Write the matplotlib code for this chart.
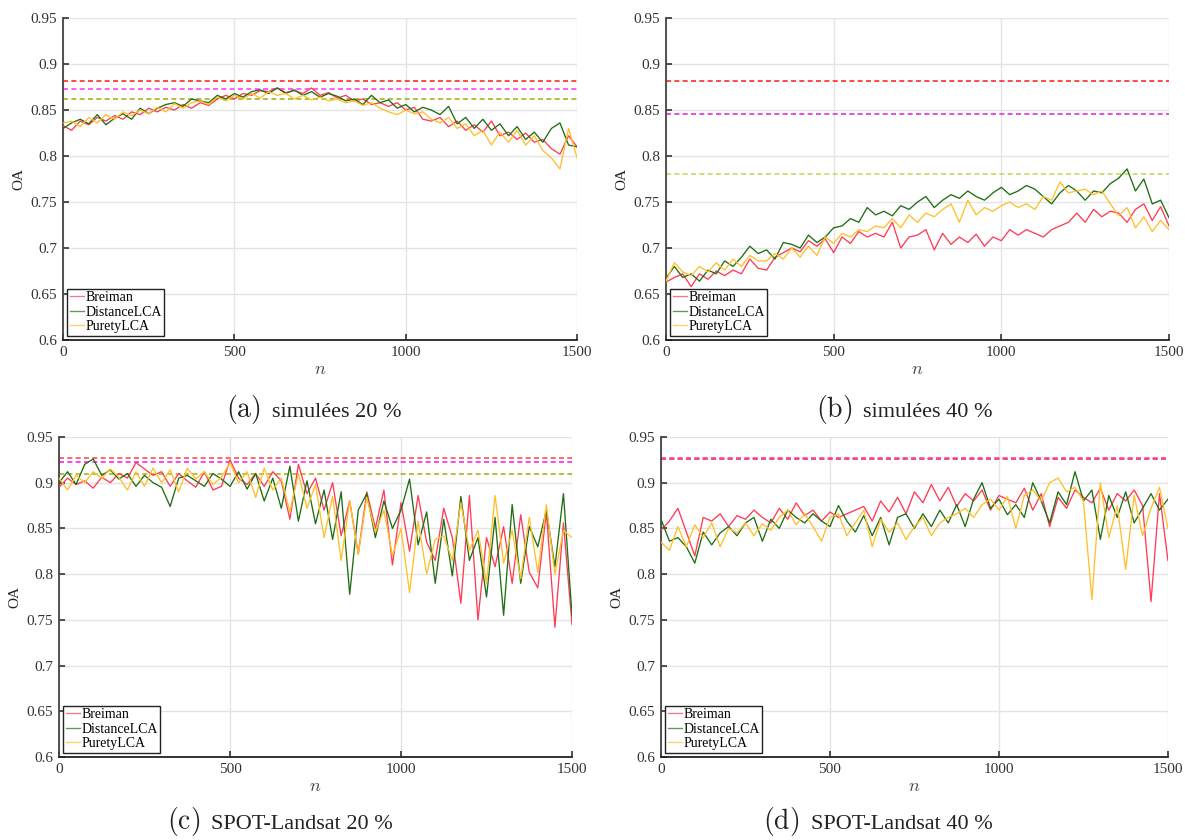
# -*- coding: utf-8 -*-
# OA en fonction de n : 4 jeux de données (simulées / SPOT-Landsat)
import numpy as np
import matplotlib
matplotlib.use('Agg')
from matplotlib import pyplot as plt
from matplotlib.offsetbox import TextArea, HPacker, AnnotationBbox

plt.rcParams['font.family'] = ['Liberation Serif', 'DejaVu Serif']
plt.rcParams['mathtext.fontset'] = 'cm'

methods = ['Breiman', 'DistanceLCA', 'PuretyLCA']
colors = ['#ff3b55', '#1f6e12', '#ffc02a']
cap_tags = ['(a)', '(b)', '(c)', '(d)']
captions = ['simulées 20 %', 'simulées 40 %',
            'SPOT-Landsat 20 %', 'SPOT-Landsat 40 %']

# niveaux de référence (pointillés) : rouge, magenta, olive
ref_a = [0.882, 0.873, 0.862]
ref_b = [0.882, 0.846, 0.780]
ref_c = [0.927, 0.923, 0.910]
ref_d = [0.926, 0.926, 0.927]

# (a) simulées 20 %  (n = 0, 25, ..., 1500)
a_breiman = [0.833, 0.828, 0.838, 0.834, 0.842, 0.838, 0.844, 0.840, 0.848, 0.845,
             0.852, 0.848, 0.853, 0.850, 0.856, 0.852, 0.858, 0.855, 0.862, 0.866,
             0.862, 0.868, 0.866, 0.871, 0.870, 0.874, 0.869, 0.871, 0.868, 0.874,
             0.866, 0.869, 0.863, 0.866, 0.860, 0.862, 0.856, 0.858, 0.854, 0.858,
             0.850, 0.853, 0.840, 0.838, 0.842, 0.832, 0.838, 0.828, 0.834, 0.826,
             0.838, 0.822, 0.826, 0.818, 0.825, 0.815, 0.818, 0.808, 0.802, 0.822,
             0.810]
a_distance = [0.830, 0.836, 0.840, 0.835, 0.845, 0.834, 0.841, 0.846, 0.840, 0.852,
              0.846, 0.852, 0.856, 0.858, 0.854, 0.862, 0.860, 0.858, 0.866, 0.862,
              0.868, 0.864, 0.870, 0.872, 0.868, 0.874, 0.868, 0.872, 0.866, 0.870,
              0.864, 0.868, 0.865, 0.860, 0.862, 0.856, 0.866, 0.858, 0.861, 0.852,
              0.856, 0.848, 0.853, 0.850, 0.845, 0.854, 0.835, 0.842, 0.830, 0.840,
              0.828, 0.835, 0.822, 0.832, 0.818, 0.826, 0.815, 0.830, 0.836, 0.812,
              0.810]
a_purety = [0.836, 0.838, 0.832, 0.842, 0.836, 0.845, 0.840, 0.848, 0.844, 0.850,
            0.846, 0.853, 0.848, 0.857, 0.852, 0.858, 0.860, 0.856, 0.864, 0.860,
            0.866, 0.862, 0.868, 0.863, 0.870, 0.866, 0.868, 0.862, 0.866, 0.861,
            0.864, 0.860, 0.862, 0.858, 0.860, 0.855, 0.858, 0.852, 0.848, 0.845,
            0.850, 0.846, 0.848, 0.840, 0.836, 0.842, 0.830, 0.835, 0.822, 0.828,
            0.812, 0.826, 0.815, 0.828, 0.812, 0.822, 0.806, 0.798, 0.786, 0.830,
            0.798]

# (b) simulées 40 %
b_breiman = [0.663, 0.668, 0.672, 0.658, 0.672, 0.666, 0.675, 0.670, 0.676, 0.672,
             0.688, 0.678, 0.676, 0.690, 0.695, 0.700, 0.696, 0.708, 0.702, 0.710,
             0.695, 0.712, 0.705, 0.718, 0.712, 0.716, 0.712, 0.728, 0.700, 0.712,
             0.714, 0.720, 0.698, 0.716, 0.704, 0.712, 0.706, 0.715, 0.702, 0.712,
             0.708, 0.720, 0.714, 0.720, 0.716, 0.712, 0.720, 0.724, 0.728, 0.738,
             0.728, 0.742, 0.734, 0.740, 0.738, 0.728, 0.742, 0.748, 0.730, 0.745,
             0.724]
b_distance = [0.667, 0.680, 0.668, 0.672, 0.664, 0.676, 0.672, 0.686, 0.680, 0.690,
              0.702, 0.694, 0.698, 0.688, 0.706, 0.704, 0.700, 0.714, 0.706, 0.712,
              0.722, 0.724, 0.732, 0.728, 0.744, 0.736, 0.740, 0.735, 0.746, 0.742,
              0.750, 0.756, 0.744, 0.752, 0.758, 0.754, 0.762, 0.756, 0.752, 0.760,
              0.766, 0.758, 0.762, 0.768, 0.764, 0.756, 0.748, 0.760, 0.768, 0.762,
              0.752, 0.762, 0.760, 0.770, 0.776, 0.786, 0.762, 0.775, 0.748, 0.752,
              0.733]
b_purety = [0.664, 0.684, 0.674, 0.670, 0.680, 0.674, 0.684, 0.676, 0.688, 0.680,
            0.692, 0.686, 0.686, 0.694, 0.688, 0.700, 0.690, 0.702, 0.692, 0.712,
            0.705, 0.716, 0.712, 0.720, 0.718, 0.724, 0.722, 0.732, 0.722, 0.736,
            0.728, 0.738, 0.734, 0.742, 0.748, 0.728, 0.752, 0.736, 0.744, 0.740,
            0.746, 0.750, 0.744, 0.748, 0.742, 0.756, 0.752, 0.772, 0.760, 0.762,
            0.764, 0.758, 0.762, 0.748, 0.735, 0.744, 0.722, 0.734, 0.718, 0.730,
            0.720]

# (c) SPOT-Landsat 20 %
c_breiman = [0.895, 0.905, 0.898, 0.902, 0.894, 0.906, 0.900, 0.910, 0.905, 0.922,
             0.915, 0.908, 0.912, 0.896, 0.910, 0.902, 0.895, 0.912, 0.892, 0.896,
             0.925, 0.905, 0.898, 0.910, 0.896, 0.912, 0.902, 0.860, 0.920, 0.888,
             0.905, 0.870, 0.900, 0.842, 0.880, 0.822, 0.890, 0.850, 0.892, 0.810,
             0.878, 0.825, 0.886, 0.835, 0.815, 0.872, 0.840, 0.768, 0.886, 0.750,
             0.840, 0.808, 0.852, 0.790, 0.865, 0.802, 0.785, 0.868, 0.742, 0.856,
             0.745]
c_distance = [0.900, 0.912, 0.898, 0.920, 0.926, 0.908, 0.914, 0.904, 0.910, 0.896,
              0.908, 0.900, 0.895, 0.874, 0.905, 0.908, 0.902, 0.896, 0.910, 0.904,
              0.896, 0.912, 0.893, 0.910, 0.880, 0.905, 0.872, 0.918, 0.858, 0.902,
              0.855, 0.892, 0.838, 0.890, 0.778, 0.870, 0.888, 0.840, 0.880, 0.850,
              0.870, 0.904, 0.832, 0.868, 0.790, 0.860, 0.798, 0.885, 0.815, 0.840,
              0.775, 0.862, 0.755, 0.876, 0.790, 0.852, 0.830, 0.870, 0.808, 0.888,
              0.755]
c_purety = [0.905, 0.892, 0.908, 0.900, 0.912, 0.905, 0.915, 0.906, 0.892, 0.912,
            0.896, 0.916, 0.900, 0.914, 0.890, 0.916, 0.904, 0.912, 0.898, 0.906,
            0.922, 0.900, 0.912, 0.884, 0.916, 0.892, 0.905, 0.868, 0.910, 0.872,
            0.898, 0.840, 0.885, 0.815, 0.880, 0.822, 0.884, 0.846, 0.870, 0.820,
            0.850, 0.780, 0.858, 0.800, 0.838, 0.842, 0.815, 0.878, 0.826, 0.848,
            0.790, 0.886, 0.812, 0.848, 0.795, 0.862, 0.802, 0.876, 0.800, 0.848,
            0.840]

# (d) SPOT-Landsat 40 %
d_breiman = [0.848, 0.858, 0.872, 0.846, 0.820, 0.862, 0.858, 0.866, 0.852, 0.864,
             0.860, 0.870, 0.862, 0.856, 0.872, 0.860, 0.878, 0.864, 0.870, 0.858,
             0.868, 0.862, 0.866, 0.870, 0.874, 0.858, 0.880, 0.868, 0.884, 0.866,
             0.890, 0.878, 0.898, 0.880, 0.895, 0.874, 0.888, 0.880, 0.892, 0.870,
             0.886, 0.882, 0.878, 0.894, 0.870, 0.888, 0.852, 0.884, 0.872, 0.892,
             0.884, 0.878, 0.894, 0.870, 0.888, 0.880, 0.892, 0.875, 0.770, 0.888,
             0.815]
d_distance = [0.860, 0.836, 0.840, 0.830, 0.812, 0.846, 0.832, 0.845, 0.852, 0.842,
              0.856, 0.862, 0.836, 0.860, 0.850, 0.870, 0.862, 0.856, 0.866, 0.858,
              0.852, 0.875, 0.858, 0.846, 0.864, 0.842, 0.862, 0.832, 0.862, 0.866,
              0.850, 0.866, 0.852, 0.870, 0.856, 0.876, 0.852, 0.882, 0.900, 0.872,
              0.882, 0.865, 0.876, 0.862, 0.900, 0.880, 0.856, 0.890, 0.876, 0.912,
              0.880, 0.892, 0.838, 0.886, 0.862, 0.890, 0.856, 0.872, 0.888, 0.870,
              0.882]
d_purety = [0.835, 0.826, 0.852, 0.830, 0.854, 0.840, 0.856, 0.830, 0.850, 0.845,
            0.856, 0.842, 0.855, 0.848, 0.862, 0.870, 0.854, 0.866, 0.852, 0.836,
            0.862, 0.866, 0.842, 0.856, 0.870, 0.830, 0.860, 0.846, 0.856, 0.838,
            0.852, 0.862, 0.842, 0.856, 0.862, 0.866, 0.872, 0.862, 0.876, 0.882,
            0.870, 0.885, 0.850, 0.886, 0.892, 0.880, 0.900, 0.905, 0.890, 0.895,
            0.880, 0.772, 0.900, 0.840, 0.875, 0.805, 0.886, 0.842, 0.872, 0.895,
            0.850]

panels = [
    ([a_breiman, a_distance, a_purety], ref_a, ['#ff2a2a', '#ff40ff', '#a8b020']),
    ([b_breiman, b_distance, b_purety], ref_b, ['#ff2a2a', '#e030e0', '#c8dc60']),
    ([c_breiman, c_distance, c_purety], ref_c, ['#ff5050', '#ff20ff', '#b0b020']),
    ([d_breiman, d_distance, d_purety], ref_d, ['#b0b020', '#ff20ff', '#ff5050']),
]

# positions des axes (fraction de la figure)
boxes = [[0.0532, 0.5952, 0.4338, 0.3833],
         [0.5620, 0.5952, 0.4245, 0.3833],
         [0.0498, 0.0988, 0.4329, 0.3810],
         [0.5578, 0.0988, 0.4278, 0.3810]]
cap_pos = [(0.265, 0.512), (0.763, 0.512), (0.236, 0.022), (0.741, 0.022)]

fig = plt.figure(figsize=(11.85, 8.4), dpi=100)

for k, (series, refs, rcols) in enumerate(panels):
    ax = fig.add_axes(boxes[k])
    for j, lvl in enumerate(refs):
        ax.axhline(lvl, color=rcols[j], lw=1.2, ls=(0, (3, 2)), zorder=2)
    for vals, name, col in zip(series, methods, colors):
        n = np.linspace(0, 1500, len(vals))
        ax.plot(n, vals, color=col, lw=0.95, label=name, zorder=3)

    ax.set_xlim(0, 1500)
    ax.set_ylim(0.6, 0.95)
    ax.set_xticks([0, 500, 1000, 1500])
    ax.set_yticks([0.6, 0.65, 0.7, 0.75, 0.8, 0.85, 0.9, 0.95])
    ax.set_yticklabels(['0.6', '0.65', '0.7', '0.75', '0.8', '0.85', '0.9', '0.95'])
    ax.grid(True, color='#e4e4e4', lw=1.0)
    ax.set_axisbelow(True)
    for s in ['top', 'right']:
        ax.spines[s].set_visible(False)
    ax.spines['left'].set_color('#444444')
    ax.spines['left'].set_linewidth(1.3)
    ax.spines['bottom'].set_color('#222222')
    ax.spines['bottom'].set_linewidth(1.3)
    ax.tick_params(direction='in', length=4, width=1.2, labelsize=11,
                   colors='#333333', pad=4)
    ax.set_xlabel('$n$', fontsize=13, color='#444444', labelpad=2)
    ax.set_ylabel('OA', fontsize=11, color='#222222')

    leg = ax.legend(loc='lower left', fontsize=10, handlelength=1.0,
                    handletextpad=0.1, borderpad=0.2, labelspacing=0.1,
                    fancybox=False, framealpha=1, borderaxespad=0.3)
    leg.get_frame().set_edgecolor('#222222')
    leg.get_frame().set_linewidth(1.0)
    for h in leg.get_lines():
        h.set_alpha(0.7)

    # légende de sous-figure : "(a)" plus grand, puis le titre
    tag = TextArea(r'$\mathrm{' + cap_tags[k] + '}$',
                   textprops=dict(size=20, color='#222222'))
    txt = TextArea(captions[k], textprops=dict(size=16, color='#222222'))
    pack = HPacker(children=[tag, txt], align='baseline', pad=0, sep=8)
    ab = AnnotationBbox(pack, cap_pos[k], xycoords='figure fraction',
                        frameon=False, box_alignment=(0.5, 0.5))
    fig.add_artist(ab)

fig.savefig('out.png', dpi=100)
